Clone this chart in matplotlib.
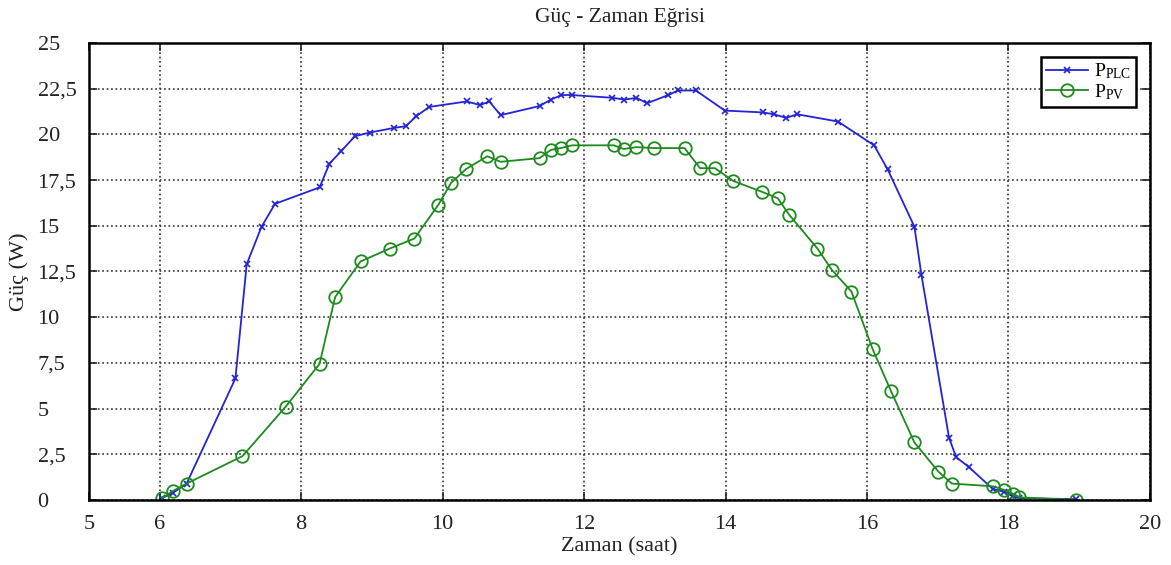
import matplotlib
matplotlib.use("Agg")
import matplotlib.pyplot as plt

plt.rcParams['font.family'] = ['Liberation Serif', 'DejaVu Serif']
plt.rcParams['mathtext.fontset'] = 'custom'
plt.rcParams['mathtext.rm'] = 'Liberation Serif'

# P_PLC (blue)
plc_t = [6.03, 6.19, 6.38, 7.07, 7.23, 7.44, 7.63, 8.26, 8.40, 8.57, 8.76, 8.97,
         9.31, 9.48, 9.63, 9.81, 10.34, 10.53, 10.66, 10.82, 11.37, 11.53, 11.68,
         11.83, 12.40, 12.57, 12.74, 12.89, 13.19, 13.33, 13.58, 13.99, 14.53,
         14.68, 14.86, 15.01, 15.59, 16.10, 16.29, 16.67, 16.77, 17.16, 17.26,
         17.44, 17.78, 17.94, 18.06, 18.15, 18.95]
plc_p = [0.1, 0.4, 0.9, 6.65, 12.9, 14.95, 16.2, 17.1, 18.4, 19.1, 19.9, 20.1,
         20.35, 20.45, 21.0, 21.5, 21.8, 21.6, 21.8, 21.05, 21.55, 21.9, 22.15,
         22.15, 22.0, 21.9, 22.0, 21.7, 22.15, 22.4, 22.4, 21.3, 21.2,
         21.1, 20.9, 21.1, 20.7, 19.4, 18.1, 14.95, 12.3, 3.4, 2.35,
         1.8, 0.6, 0.45, 0.2, 0.1, 0.05]

# P_PV (green)
pv_t = [6.03, 6.19, 6.38, 7.17, 7.78, 8.26, 8.48, 8.84, 9.25, 9.60, 9.94, 10.12,
        10.33, 10.63, 10.82, 11.37, 11.53, 11.67, 11.83, 12.42, 12.56, 12.74,
        12.99, 13.42, 13.64, 13.85, 14.11, 14.52, 14.74, 14.90, 15.30, 15.50,
        15.78, 16.08, 16.34, 16.67, 17.01, 17.20, 17.78, 17.94, 18.06, 18.15, 18.95]
pv_p = [0.1, 0.5, 0.9, 2.4, 5.1, 7.45, 11.1, 13.05, 13.75, 14.3, 16.15, 17.35,
        18.1, 18.8, 18.5, 18.7, 19.15, 19.25, 19.4, 19.4, 19.2, 19.3,
        19.25, 19.25, 18.15, 18.15, 17.45, 16.85, 16.5, 15.6, 13.75, 12.6,
        11.4, 8.25, 5.95, 3.15, 1.55, 0.9, 0.75, 0.55, 0.35, 0.15, 0.0]

x_ticks = [5, 6, 8, 10, 12, 14, 16, 18, 20]
y_ticks = [0, 2.5, 5, 7.5, 10, 12.5, 15, 17.5, 20, 22.5, 25]
y_labels = ['0', '2,5', '5', '7,5', '10', '12,5', '15', '17,5', '20', '22,5', '25']

fig = plt.figure(figsize=(11.71, 5.65), dpi=100)
ax = fig.add_axes([0.076, 0.115, 0.906, 0.809])

ax.plot(plc_t, plc_p, '-x', color='#2424d4', lw=1.3, ms=5, mew=1.2,
        label=r'$\mathrm{P_{PLC}}$')
ax.plot(pv_t, pv_p, '-o', color='#1e8a1e', lw=1.3, ms=9, mew=1.3,
        mfc='none', label=r'$\mathrm{P_{PV}}$')

ax.set_xlim(5, 20)
ax.set_ylim(0, 25)
ax.set_xticks(x_ticks)
ax.set_yticks(y_ticks)
ax.set_yticklabels(y_labels, ha='left')
ax.tick_params(direction='in', top=True, right=True, length=6, width=1.2,
               labelsize=16, colors='#222222')
ax.tick_params(axis='x', pad=11)
ax.tick_params(axis='y', pad=37)
for s in ax.spines.values():
    s.set_linewidth(1.8)
ax.grid(True, linestyle=':', color='#333333', lw=1.2)

ax.set_xlabel('Zaman (saat)', fontsize=16, labelpad=2, color='#222222')
ax.set_ylabel('Güç (W)', fontsize=16, labelpad=2, color='#222222')
ax.yaxis.set_label_coords(-0.057, 0.5)
ax.set_title('Güç - Zaman Eğrisi', fontsize=15.5, pad=15, color='#222222')

leg = ax.legend(loc='upper right', fontsize=14, fancybox=False, framealpha=1,
                edgecolor='black', borderpad=0.25, labelspacing=0.05,
                handlelength=2.2, handletextpad=0.3, borderaxespad=0.7)
leg.get_frame().set_linewidth(1.8)

fig.savefig('out.png', dpi=100)
